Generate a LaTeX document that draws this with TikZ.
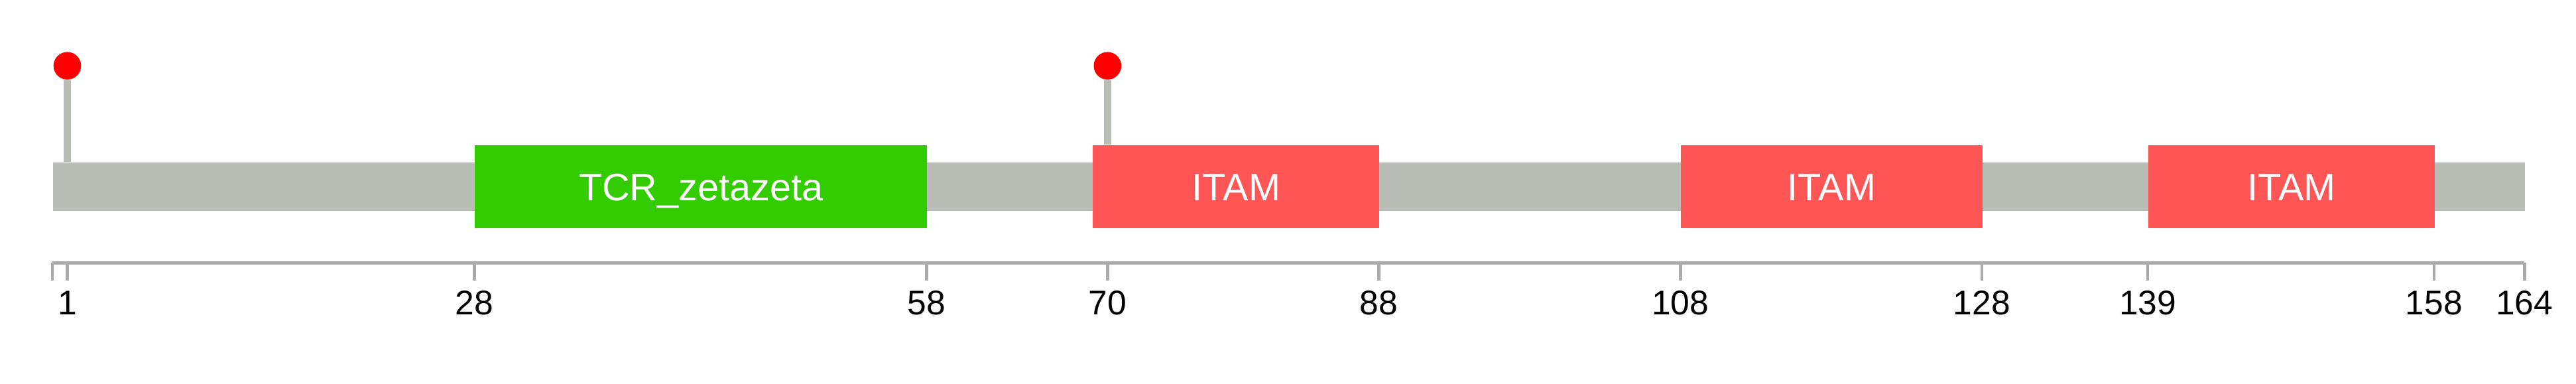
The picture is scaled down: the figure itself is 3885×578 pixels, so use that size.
\documentclass[tikz,border=0pt]{standalone}
\usepackage{fontspec}
\setmainfont{Liberation Sans}
\definecolor{bbgray}{HTML}{BABDB6}
\definecolor{axgray}{HTML}{AAAAAA}
\definecolor{tcrgreen}{HTML}{33CC00}
\definecolor{itamred}{HTML}{FF5555}
\definecolor{lollired}{HTML}{FF0000}
\tikzset{
  backbone/.style={fill=bbgray, draw=none, rectangle, inner sep=0pt, anchor=west, minimum height=18.45pt},
  domainbox/.style={draw=none, rectangle, inner sep=0pt, anchor=west, minimum height=31.25pt,
    text=white, font=\fontsize{14.4}{16}\selectfont, text height=10.3pt, text depth=0pt},
  lollihead/.style={circle, fill=lollired, draw=none, inner sep=0pt, minimum size=10.4pt},
  stem/.style={draw=bbgray, line width=2.6pt},
  axisline/.style={draw=axgray, line width=1.25pt},
  tickmark/.style={draw=axgray, line width=1.15pt},
  ticklabel/.style={anchor=base, inner sep=0pt, font=\fontsize{12.9}{15}\selectfont}
}
\begin{document}
\begin{tikzpicture}[x=0.25pt,y=-0.25pt]
\useasboundingbox (0,0) rectangle (3885,578);
% backbone
\node[backbone, minimum width=932.1pt] (bb) at (78.8,281.5) {};
% domains
\node[domainbox, fill=tcrgreen, minimum width=170.5pt] (d1) at (715.4,281.5) {TCR\_zetazeta};
\node[domainbox, fill=itamred, minimum width=108pt] (d2) at (1647.5,281.5) {ITAM};
\node[domainbox, fill=itamred, minimum width=113.675pt] (d3) at (2534.2,281.5) {ITAM};
\node[domainbox, fill=itamred, minimum width=107.975pt] (d4) at (3239.0,281.5) {ITAM};
% lollipops
\node[lollihead] (l1) at (101.5,99.2) {};
\node[lollihead] (l2) at (1670.3,99.2) {};
\draw[stem] (l1.south) -- (l1.south |- bb.north);
\draw[stem] (l2.south) -- (l2.south |- d2.north);
% axis
\coordinate (a0) at (78.8,396);
\coordinate (a164) at (3807.3,396);
\draw[axisline] (a0) -- (a164);
\foreach \r/\px in {0/78.8, 1/101.5, 28/715.4, 58/1397.4, 70/1670.3, 88/2079.5,
  108/2534.2, 128/2988.9, 139/3239.0, 158/3670.9, 164/3807.3}{
  \coordinate (t\r) at (\px,396);
  \draw[tickmark] (t\r) -- ++(0,26.7);
}
\foreach \r/\px in {1/101.5, 28/715.4, 58/1397.4, 70/1670.3, 88/2079.5,
  108/2534.2, 128/2988.9, 139/3239.0, 158/3670.9, 164/3807.3}{
  \node[ticklabel] (lab\r) at (\px,474) {\r};
}
\end{tikzpicture}
\end{document}
